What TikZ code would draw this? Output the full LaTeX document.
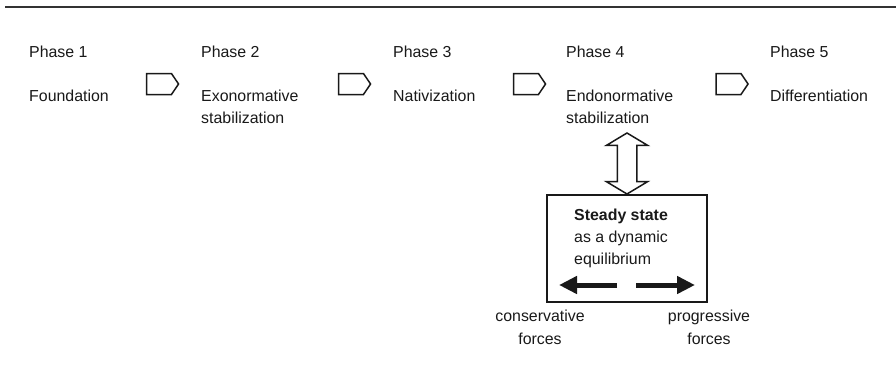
\documentclass[tikz,border=0pt]{standalone}
\usepackage{fontspec}
\setmainfont{Liberation Sans}
\usetikzlibrary{shapes.symbols, shapes.arrows, arrows.meta}
\tikzset{
	label text/.style={anchor=base west, align=left, inner sep=0pt, font=\fontsize{15.9}{22}\selectfont, text=black!90},
	force label/.style={anchor=base, align=center, inner sep=0pt, font=\fontsize{15.9}{23}\selectfont, text=black!90},
	phase arrow/.style={draw=black!90, line width=1.5pt, shape=signal, signal to=east, signal from=nowhere, signal pointer angle=112, minimum width=32pt, minimum height=21pt, inner sep=0pt},
	force/.style={line width=5pt, black!90, -{Triangle[length=18pt, width=17pt]}}
}
\begin{document}
\begin{tikzpicture}[x=1pt, y=-1pt]
	\useasboundingbox (0, 0) rectangle (896, 368);
	% Paths, nodes and wires:
	\draw[line width=2pt, black!80] (5, 7) -- (896, 7);
	\node[label text] (p1) at (29, 57){Phase 1};
	\node[label text] (n1) at (29, 101){Foundation};
	\node[label text] (p2) at (201, 57){Phase 2};
	\node[label text] (n2) at (201, 123){Exonormative\\stabilization};
	\node[label text] (p3) at (393, 57){Phase 3};
	\node[label text] (n3) at (393, 101){Nativization};
	\node[label text] (p4) at (566, 57){Phase 4};
	\node[label text] (n4) at (566, 123){Endonormative\\stabilization};
	\node[label text] (p5) at (770, 57){Phase 5};
	\node[label text] (n5) at (770, 101){Differentiation};
	\node[phase arrow] (a12) at (159, 84){};
	\node[phase arrow] (a23) at (351, 84){};
	\node[phase arrow] (a34) at (526, 84){};
	\node[phase arrow] (a45) at (728.5, 84){};
	\node[draw=black!90, line width=1.2pt, minimum width=160pt, minimum height=107pt, inner sep=0pt] (state) at (627, 248.5){};
	\node[draw=black!90, line width=1.5pt, shape=double arrow, rotate=90, double arrow head extend=11pt, double arrow tip angle=118, minimum height=61pt, inner xsep=0pt, inner ysep=9pt] (link) at (627, 163.5){};
	\node[label text] (steady) at (574, 264){\textbf{Steady state}\\as a dynamic\\equilibrium};
	\coordinate (cl) at (617, 285);
	\coordinate (cr) at (636, 285);
	\draw[force] (cl) -- (559, 285);
	\draw[force] (cr) -- (695, 285);
	\node[force label] (cons) at (540, 344){conservative\\forces};
	\node[force label] (prog) at (709, 344){progressive\\forces};
\end{tikzpicture}
\end{document}
